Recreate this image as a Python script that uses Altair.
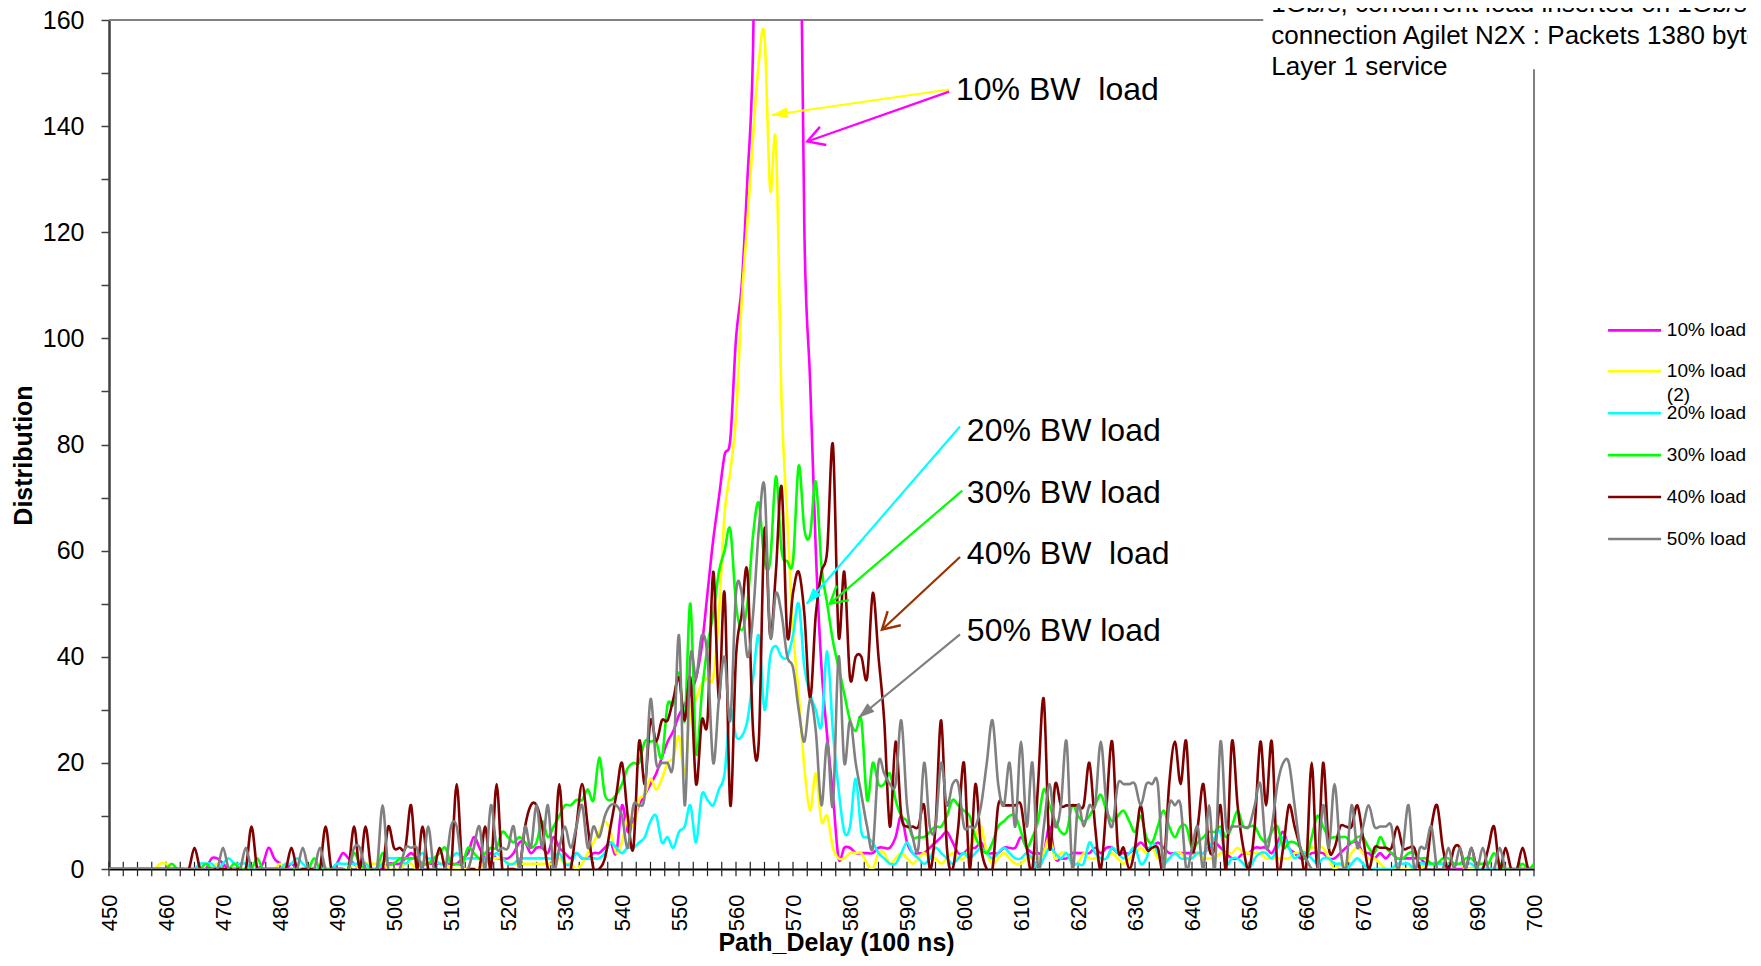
import math
import altair as alt
import pandas as pd

# ------------------------------------------------------------------ data
path_delay = list(range(450, 701))

load_10 = [
    0, 0, 0, 0, 0, 0, 0, 0, 0, 0,
    0, 0, 0, 0, 0, 0, 0, 0, 2, 2,
    1, 0, 0, 0, 0, 0, 0, 1, 4, 2,
    1, 0, 1, 0, 0, 0, 0, 0, 0, 0,
    1, 3, 2, 1, 0, 0, 0, 0, 0, 1,
    1, 1, 2, 3, 2, 1, 1, 1, 1, 1,
    1, 1, 2, 3, 6, 4, 2, 3, 2, 2,
    2, 3, 5, 5, 3, 4, 4, 3, 6, 4,
    3, 2, 3, 2, 2, 3, 3, 4, 5, 3,
    12, 7, 9, 12, 14, 16, 18, 21, 24, 26,
    29, 31, 33, 36, 42, 52, 62, 70, 78, 81,
    100, 110, 130, 155, 230, 300, 330, 340, 320, 290,
    250, 210, 120, 92, 60, 38, 25, 14, 2, 4,
    4, 3, 3, 3, 3, 4, 4, 4, 6, 10,
    5, 3, 3, 3, 4, 5, 6, 7, 5, 3,
    3, 4, 4, 5, 3, 3, 3, 4, 4, 4,
    6, 4, 3, 3, 3, 8, 2, 2, 2, 3,
    3, 3, 3, 4, 3, 4, 4, 3, 3, 3,
    4, 5, 4, 4, 5, 4, 3, 3, 3, 3,
    3, 3, 3, 4, 5, 4, 3, 2, 2, 3,
    3, 4, 4, 4, 3, 5, 7, 4, 3, 2,
    2, 3, 3, 3, 2, 2, 3, 4, 5, 5,
    3, 3, 2, 3, 2, 3, 2, 2, 2, 2,
    2, 1, 1, 1, 1, 0, 0, 0, 0, 0,
    0, 0, 0, 0, 0, 0, 0, 0, 0, 0,
    0,
]

load_10_2 = [
    0, 0, 0, 0, 0, 0, 0, 0, 0, 1,
    1, 0, 0, 0, 0, 0, 0, 0, 0, 1,
    0, 0, 0, 0, 0, 0, 0, 0, 0, 0,
    1, 0, 0, 0, 0, 0, 0, 0, 0, 0,
    0, 0, 0, 1, 0, 1, 1, 1, 1, 0,
    0, 0, 1, 1, 0, 1, 1, 2, 1, 1,
    0, 0, 0, 0, 0, 0, 1, 2, 2, 2,
    1, 1, 1, 1, 1, 1, 1, 1, 1, 2,
    1, 1, 0, 1, 3, 5, 7, 9, 7, 3,
    5, 10, 8, 13, 14, 17, 15, 17, 20, 21,
    25, 18, 30, 32, 35, 36, 36, 48, 67, 75,
    85, 107, 122, 138, 152, 157, 128, 137, 88, 66,
    45, 33, 19, 11, 18, 9, 10, 4, 2, 2,
    3, 3, 3, 1, 0, 3, 3, 1, 2, 3,
    2, 1, 2, 3, 2, 2, 1, 2, 3, 2,
    2, 4, 6, 8, 3, 1, 2, 3, 2, 1,
    1, 2, 2, 2, 3, 6, 2, 3, 3, 1,
    1, 3, 2, 2, 2, 2, 3, 2, 1, 2,
    3, 4, 3, 4, 2, 2, 2, 3, 3, 2,
    2, 3, 2, 2, 2, 3, 3, 3, 4, 3,
    3, 3, 3, 2, 2, 2, 2, 2, 3, 3,
    3, 4, 4, 4, 2, 0, 1, 1, 3, 4,
    3, 2, 2, 1, 0, 0, 0, 0, 0, 0,
    0, 1, 1, 1, 1, 1, 1, 1, 0, 0,
    0, 0, 0, 0, 0, 0, 0, 0, 0, 0,
    0,
]

load_20 = [
    0, 0, 0, 0, 0, 0, 0, 0, 0, 0,
    0, 0, 0, 0, 0, 0, 1, 1, 1, 0,
    1, 2, 1, 1, 1, 0, 0, 0, 0, 0,
    0, 1, 1, 2, 1, 0, 0, 0, 0, 0,
    1, 1, 1, 1, 1, 1, 0, 0, 1, 2,
    2, 2, 1, 2, 2, 3, 2, 2, 1, 1,
    2, 3, 2, 2, 2, 2, 2, 2, 3, 2,
    1, 1, 2, 2, 2, 2, 2, 2, 2, 3,
    1, 1, 3, 2, 2, 2, 2, 3, 5, 4,
    3, 4, 4, 5, 6, 9, 10, 5, 6, 4,
    7, 8, 12, 5, 14, 13, 12, 15, 18, 30,
    25, 25, 28, 36, 44, 30, 40, 42, 40, 40,
    44, 50, 38, 33, 30, 27, 41, 26, 15, 7,
    8, 17, 7, 6, 5, 3, 2, 1, 1, 3,
    5, 3, 2, 1, 2, 4, 3, 2, 1, 2,
    3, 2, 3, 4, 3, 2, 3, 4, 3, 2,
    2, 3, 2, 0, 2, 4, 3, 2, 3, 1,
    1, 1, 5, 3, 2, 2, 4, 3, 2, 3,
    4, 1, 2, 5, 3, 1, 2, 3, 2, 2,
    2, 3, 3, 4, 6, 7, 1, 2, 2, 1,
    0, 2, 3, 3, 2, 4, 6, 4, 2, 3,
    3, 2, 1, 2, 2, 1, 1, 0, 1, 2,
    1, 0, 0, 0, 0, 0, 1, 1, 1, 0,
    1, 1, 1, 1, 1, 1, 1, 1, 1, 1,
    0, 0, 0, 0, 0, 0, 0, 0, 0, 0,
    0,
]

load_30 = [
    0, 0, 0, 0, 0, 0, 0, 0, 0, 0,
    0, 1, 0, 0, 0, 0, 0, 1, 0, 0,
    0, 0, 1, 0, 0, 0, 2, 0, 0, 0,
    0, 0, 0, 0, 0, 0, 2, 0, 0, 0,
    0, 0, 0, 3, 1, 0, 0, 0, 3, 1,
    1, 2, 2, 2, 2, 1, 1, 2, 3, 4,
    1, 1, 1, 4, 3, 2, 3, 4, 4, 7,
    6, 5, 6, 5, 4, 5, 9, 6, 8, 10,
    12, 12, 13, 13, 15, 13, 21, 14, 13, 14,
    16, 19, 20, 20, 24, 24, 24, 21, 31, 31,
    37, 28, 50, 22, 33, 42, 48, 56, 60, 64,
    50, 45, 50, 63, 69, 58, 58, 74, 60, 58,
    58, 76, 64, 63, 73, 57, 50, 43, 38, 33,
    28, 26, 28, 13, 20, 16, 16, 18, 13, 10,
    9, 6, 6, 6, 7, 8, 8, 10, 13, 12,
    11, 10, 6, 4, 3, 5, 8, 9, 10, 10,
    7, 4, 6, 9, 15, 12, 9, 7, 7, 12,
    10, 9, 10, 12, 14, 11, 9, 10, 11, 9,
    7, 10, 6, 5, 8, 11, 8, 6, 8, 8,
    4, 5, 6, 7, 7, 8, 6, 8, 11, 8,
    8, 8, 6, 5, 7, 8, 4, 5, 5, 4,
    2, 6, 10, 8, 6, 6, 6, 6, 5, 6,
    6, 4, 3, 6, 4, 3, 2, 2, 3, 3,
    2, 2, 1, 1, 2, 2, 1, 1, 2, 2,
    1, 1, 1, 3, 1, 0, 0, 0, 1, 0,
    1,
]

load_40 = [
    0, 0, 0, 0, 0, 0, 0, 0, 0, 0,
    0, 0, 0, 0, 0, 4, 0, 0, 0, 0,
    0, 0, 0, 0, 0, 8, 0, 0, 0, 0,
    0, 0, 4, 0, 0, 0, 0, 0, 8, 0,
    0, 0, 0, 8, 0, 8, 0, 0, 0, 8,
    4, 4, 4, 12, 0, 8, 0, 0, 4, 0,
    0, 16, 0, 0, 0, 0, 8, 0, 16, 0,
    0, 0, 0, 8, 12, 12, 8, 0, 0, 16,
    0, 0, 8, 16, 8, 0, 0, 2, 8, 14,
    20, 10, 4, 24, 16, 28, 24, 28, 28, 32,
    36, 28, 36, 16, 28, 28, 56, 32, 52, 12,
    40, 48, 56, 26, 24, 64, 44, 56, 72, 44,
    52, 56, 48, 32, 48, 56, 60, 80, 44, 56,
    36, 40, 40, 36, 52, 40, 28, 8, 24, 10,
    8, 8, 8, 12, 0, 8, 28, 4, 0, 8,
    20, 0, 16, 4, 0, 0, 12, 12, 12, 12,
    12, 4, 0, 16, 32, 4, 16, 12, 12, 12,
    12, 12, 20, 8, 0, 12, 24, 4, 4, 0,
    4, 12, 4, 4, 4, 0, 16, 24, 16, 24,
    4, 8, 16, 4, 4, 12, 0, 24, 12, 4,
    0, 8, 24, 12, 24, 0, 4, 12, 8, 4,
    0, 20, 0, 20, 4, 4, 8, 8, 8, 12,
    6, 0, 4, 4, 4, 4, 8, 4, 4, 4,
    0, 0, 8, 12, 4, 0, 4, 4, 0, 4,
    0, 0, 4, 8, 0, 4, 0, 0, 4, 0,
    0,
]

load_50 = [
    0, 0, 0, 0, 0, 0, 0, 0, 0, 0,
    0, 0, 0, 0, 0, 0, 0, 0, 0, 0,
    4, 0, 0, 0, 4, 0, 0, 0, 0, 0,
    0, 0, 0, 0, 4, 0, 0, 4, 0, 0,
    0, 0, 0, 4, 4, 0, 0, 0, 12, 0,
    0, 0, 4, 4, 4, 0, 8, 0, 0, 0,
    8, 8, 0, 0, 4, 8, 0, 12, 4, 4,
    4, 8, 0, 8, 4, 12, 4, 12, 0, 4,
    8, 4, 8, 12, 4, 8, 6, 10, 12, 12,
    10, 4, 12, 12, 14, 32, 20, 20, 20, 20,
    44, 12, 40, 36, 44, 40, 20, 32, 40, 28,
    52, 52, 40, 48, 64, 72, 44, 52, 48, 40,
    38, 30, 24, 32, 26, 12, 24, 12, 40, 20,
    28, 20, 14, 8, 4, 20, 18, 16, 16, 28,
    12, 6, 4, 20, 8, 8, 20, 12, 16, 16,
    8, 8, 8, 12, 20, 28, 16, 12, 20, 8,
    24, 8, 20, 0, 8, 16, 8, 12, 24, 0,
    12, 8, 12, 12, 24, 12, 8, 16, 16, 16,
    16, 12, 16, 16, 16, 0, 12, 12, 12, 0,
    4, 8, 0, 12, 0, 24, 8, 8, 8, 8,
    8, 12, 16, 4, 8, 16, 20, 20, 12, 4,
    2, 0, 0, 12, 4, 16, 4, 0, 12, 4,
    8, 12, 8, 8, 8, 8, 0, 4, 12, 0,
    4, 4, 8, 0, 0, 4, 0, 4, 0, 4,
    0, 4, 0, 0, 4, 0, 0, 0, 0, 0,
    0,
]

series_names = ["10% load", "10% load (2)", "20% load", "30% load", "40% load", "50% load"]
series_colors = ["#FF00FF", "#FFFF00", "#00FFFF", "#00FF00", "#800000", "#808080"]
series_values = [load_10, load_10_2, load_20, load_30, load_40, load_50]

x_tick_labels = list(range(450, 701, 10))
x_minor_ticks = [450 + 2.5 * i for i in range(101)]
y_ticks = list(range(0, 161, 10))

# annotation texts and arrows (data units)
ann_text = ["10% BW\u00a0 load", "20% BW load", "30% BW load", "40% BW\u00a0 load", "50% BW load"]
ann_x = [598.6, 600.5, 600.5, 600.5, 600.5]
ann_y = [146.9, 82.5, 70.9, 59.3, 44.9]

arrow_colors = ["#FFFF00", "#FF00FF", "#00FFFF", "#00FF00", "#993300", "#808080"]
arrow_x0 = [597.4, 597.4, 599.3, 599.7, 599.3, 599.3]
arrow_y0 = [146.9, 146.5, 83.4, 71.3, 58.8, 44.2]
arrow_x1 = [566.3, 572.5, 572.4, 576.5, 585.6, 581.5]
arrow_y1 = [142.1, 137.1, 50.0, 50.0, 45.1, 28.5]
arrow_filled = [True, False, True, False, False, True]

note_lines = ["1Gb/s, concurrent load inserted on 1Gb/s",
              "connection Agilet N2X : Packets 1380 bytes",
              "Layer 1 service"]
note_x = 653.9
note_y = [163.0, 157.0, 151.1]

legend_labels = ["10% load", "10% load", "20% load", "30% load", "40% load", "50% load"]
legend_y = [101.5, 93.8, 85.9, 78.0, 70.1, 62.2]
legend_extra = "(2)"
legend_extra_y = 89.4
legend_x0, legend_x1, legend_text_x = 713.0, 722.3, 723.3

# ------------------------------------------------------------------ geometry
W, H = 1425, 849
PX_X = W / 250.0
PX_Y = H / 160.0


def heading(x0, y0, x1, y1):
    dx = (x1 - x0) * PX_X
    dy = -(y1 - y0) * PX_Y
    return math.degrees(math.atan2(dx, -dy)) % 360


FONT = "Liberation Sans, Arial, sans-serif"

xscale = alt.Scale(domain=[450, 700], nice=False, zero=False)
yscale = alt.Scale(domain=[0, 160], nice=False, zero=False)

xaxis = alt.Axis(
    values=x_tick_labels, labelAngle=270, labelAlign="right", labelBaseline="middle",
    labelFontSize=22, labelFont=FONT, labelColor="black", labelPadding=25,
    ticks=False, domainColor="black", domainWidth=2, grid=False,
    labelFlush=False, labelOverlap=False,
    title="Path_Delay  (100 ns)", titleFont=FONT, titleFontSize=25,
    titleFontWeight="bold", titleColor="black",
    titleX=727, titleY=73, titleBaseline="middle", titleAlign="center",
)
yaxis = alt.Axis(
    values=y_ticks, labelExpr="datum.value % 20 == 0 ? datum.label : ''",
    labelFontSize=25, labelFont=FONT, labelColor="black", labelPadding=17,
    tickSize=8, tickColor="#404040", tickWidth=1.5,
    domainColor="#404040", domainWidth=2.5, grid=False,
    labelFlush=False, labelOverlap=False,
    title="Distribution", titleFont=FONT, titleFontSize=25, titleFontWeight="bold",
    titleColor="black", titleX=-86, titleY=435, titleAngle=270,
    titleBaseline="middle", titleAlign="center",
)

X = lambda f: alt.X(f, type="quantitative", scale=xscale, axis=xaxis)
Y = lambda f: alt.Y(f, type="quantitative", scale=yscale, axis=yaxis)

layers = []

# minor/major x ticks crossing the axis
ticks_df = pd.DataFrame({"x": x_minor_ticks, "y0": -1.35, "y1": 1.35})
layers.append(alt.Chart(ticks_df).mark_rule(color="#222222", strokeWidth=1.2).encode(
    x=X("x"), y=Y("y0"), y2="y1"))

# frame (top and right borders)
frame_df = pd.DataFrame({"x": [450, 700], "x2": [652.5, 700], "y": [160, 0], "y2": [160, 150.7]})
layers.append(alt.Chart(frame_df).mark_rule(color="#808080", strokeWidth=2).encode(
    x=X("x"), x2="x2", y=Y("y"), y2="y2"))

# data series
for name, color, vals in zip(series_names, series_colors, series_values):
    d = pd.DataFrame({"delay": path_delay, "value": vals, "series": name})
    layers.append(alt.Chart(d).mark_line(interpolate="cardinal", strokeWidth=2.6,
                                         color=color, clip=True).encode(
        x=X("delay"), y=Y("value")))

# arrows
arr_df = pd.DataFrame({
    "x0": arrow_x0, "y0": arrow_y0, "x1": arrow_x1, "y1": arrow_y1,
    "color": arrow_colors, "filled": arrow_filled,
})
arr_df["angle"] = [heading(a, b, c, d) for a, b, c, d in zip(arrow_x0, arrow_y0, arrow_x1, arrow_y1)]
layers.append(alt.Chart(arr_df).mark_rule(strokeWidth=2.2).encode(
    x=X("x0"), y=Y("y0"), x2="x1", y2="y1", color=alt.Color("color:N", scale=None)))
layers.append(alt.Chart(arr_df[arr_df.filled]).mark_point(
    shape="M0,0L-0.55,1.6L0.55,1.6Z", size=400, filled=True, opacity=1, strokeWidth=0).encode(
    x=X("x1"), y=Y("y1"), color=alt.Color("color:N", scale=None),
    angle=alt.Angle("angle:Q", scale=None)))
layers.append(alt.Chart(arr_df[~arr_df.filled]).mark_point(
    shape="M-0.8,1.4L0,0L0.8,1.4", size=576, filled=False, opacity=1, strokeWidth=2.4).encode(
    x=X("x1"), y=Y("y1"), stroke=alt.Stroke("color:N", scale=None),
    angle=alt.Angle("angle:Q", scale=None)))

# annotation texts
ann_df = pd.DataFrame({"x": ann_x, "y": ann_y, "text": ann_text})
layers.append(alt.Chart(ann_df).mark_text(align="left", baseline="middle", fontSize=32,
                                          font=FONT, color="black").encode(
    x=X("x"), y=Y("y"), text="text:N"))

# note text in the top-right corner
note_df = pd.DataFrame({"x": note_x, "y": note_y, "text": note_lines})
layers.append(alt.Chart(note_df).mark_text(align="left", baseline="middle", fontSize=26,
                                           font=FONT, color="black").encode(
    x=X("x"), y=Y("y"), text="text:N"))

# legend
leg_df = pd.DataFrame({"x0": legend_x0, "x1": legend_x1, "y": legend_y,
                       "color": series_colors, "label": legend_labels})
layers.append(alt.Chart(leg_df).mark_rule(strokeWidth=2.6).encode(
    x=X("x0"), x2="x1", y=Y("y"), color=alt.Color("color:N", scale=None)))
leg_txt = pd.DataFrame({"x": legend_text_x, "y": legend_y + [legend_extra_y],
                        "label": legend_labels + [legend_extra]})
layers.append(alt.Chart(leg_txt).mark_text(align="left", baseline="middle", fontSize=19,
                                           font=FONT, color="black").encode(
    x=X("x"), y=Y("y"), text="label:N"))

chart = alt.layer(*layers).properties(
    width=W, height=H,
    autosize=alt.AutoSizeParams(type="none"),
    padding={"left": 101, "top": 12, "right": 214, "bottom": 89},
    background="white",
).configure_view(stroke=None)

chart.save("out.html", embed_options={"renderer": "svg", "actions": False})
